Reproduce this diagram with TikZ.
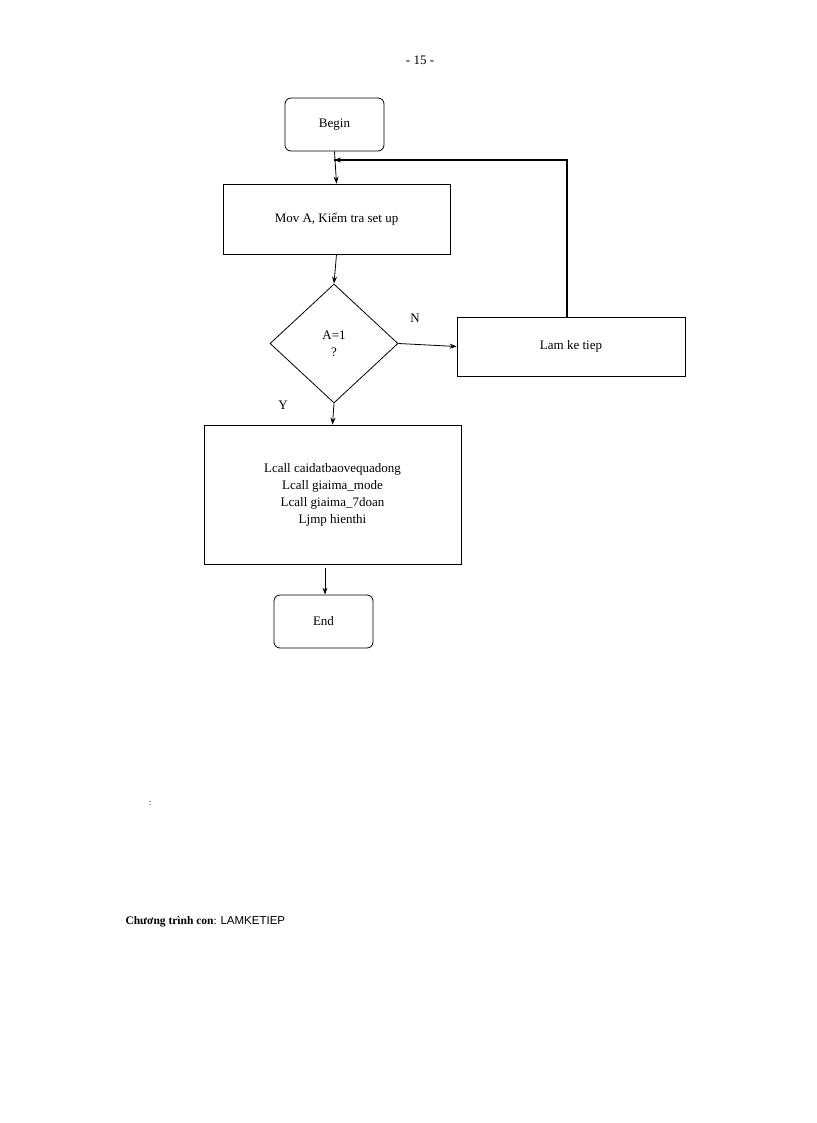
\documentclass[tikz,border=0pt]{standalone}
\usepackage{fontspec}
\setmainfont{Liberation Serif}
\newfontfamily\sansf{Liberation Sans}
\usetikzlibrary{shapes.geometric,arrows.meta}
\begin{document}
\begin{tikzpicture}[x=1pt,y=-1pt,
  box/.style={draw,thick,minimum width=#1},
  lbl/.style={font=\fontsize{13}{17}\selectfont},
  arr/.style={-{Stealth[length=7pt,width=5pt]},thick}]
\useasboundingbox (0,0) rectangle (816,1123);
\node[lbl] (pg) at (420,60) {- 15 -};
\node[draw,thick,rounded corners=6pt,minimum width=99pt,minimum height=53pt,lbl] (begin) at (334.5,124.5) {Begin};
\node[draw,thick,minimum width=227pt,minimum height=70pt,lbl] (mov) at (336.5,219) {Mov A, Kiểm tra set up};
\node[draw,thick,diamond,minimum width=128pt,minimum height=119pt,inner sep=0pt,align=center,lbl] (dec) at (334,343.5) {A=1\\?};
\node[draw,thick,minimum width=228pt,minimum height=59pt,lbl] (lam) at (571,346.5) {Lam ke tiep};
\node[draw,thick,minimum width=257pt,minimum height=139pt,align=center,lbl] (lcall) at (332.5,494.5) {Lcall caidatbaovequadong\\Lcall giaima\_mode\\Lcall giaima\_7doan\\Ljmp hienthi};
\node[draw,thick,rounded corners=6pt,minimum width=99pt,minimum height=53pt,lbl] (end) at (323.5,621.5) {End};
\node[lbl] (n) at (415,318) {N};
\node[lbl] (y) at (283,405) {Y};
\coordinate (lt) at (567,160);
\coordinate (mt) at (334,160);
\draw[arr] (begin.south) -- (mov.north);
\draw[arr] (mov.south) -- (dec.north);
\draw[arr] (dec.east) -- (lam.west);
\draw[arr] (dec.south) -- (lcall.north);
\draw[arr] (325,568) -- (end.north -| 325,0);
\draw[line width=2pt] (lam.north -| lt) -- (lt) -- (mt);
\draw[arr] (345,160) -- (mt);
\node[font=\small] (colon) at (150,803) {:};
\node[anchor=west,font=\fontsize{11.5}{14}\selectfont] (title) at (122,922) {\textbf{Chương trình con}: {\sansf LAMKETIEP}};
\end{tikzpicture}
\end{document}
